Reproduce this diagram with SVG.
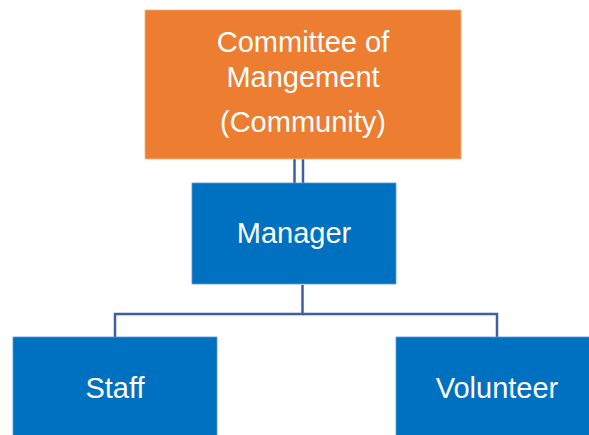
<svg xmlns="http://www.w3.org/2000/svg" width="589" height="435" viewBox="0 0 589 435">
<style>
.t{font-family:"Liberation Sans",Arial,sans-serif;font-size:29px;fill:#fff;text-anchor:middle}
.or{fill:#ED7D31;stroke:#F4B183;stroke-width:0.8}
.bl{fill:#0070C0;stroke:#5B9BD5;stroke-width:0.8}
.c{fill:none;stroke:#3F5FA5;stroke-width:2.5}
</style>
<rect width="589" height="435" fill="#fff"/>
<g id="connectors">
<line class="c" x1="294.5" y1="159" x2="294.5" y2="183"/>
<line class="c" x1="303" y1="159" x2="303" y2="183"/>
<polyline class="c" points="302.5,285 302.5,314 115,314 115,337"/>
<polyline class="c" points="302.5,314 497,314 497,337"/>
</g>
<g id="committee">
<rect class="or" x="145" y="10" width="316" height="149"/>
<text class="t" x="303" y="52">Committee of</text>
<text class="t" x="303" y="87">Mangement</text>
<text class="t" x="303" y="132">(Community)</text>
</g>
<g id="manager">
<rect class="bl" x="192" y="183" width="204" height="101"/>
<text class="t" x="294" y="243">Manager</text>
</g>
<g id="staff">
<rect class="bl" x="13" y="337" width="204" height="110"/>
<text class="t" x="115" y="398">Staff</text>
</g>
<g id="volunteer">
<rect class="bl" x="396" y="337" width="204" height="110"/>
<text class="t" x="497" y="398">Volunteer</text>
</g>
</svg>
